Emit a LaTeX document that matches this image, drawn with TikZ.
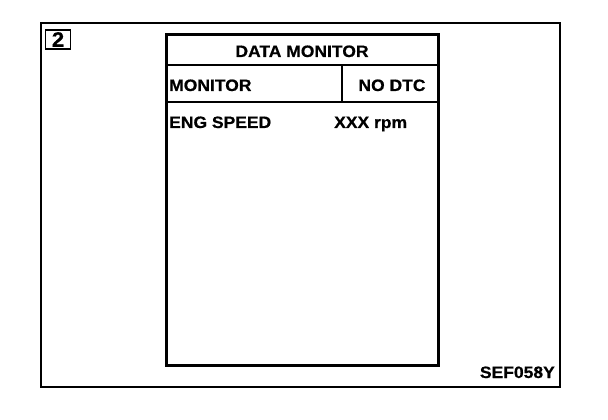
\documentclass[tikz,border=0pt]{standalone}
\usepackage{fontspec}
\setmainfont{Liberation Sans}
\newfontfamily\scrfont[FakeStretch=1.06,FakeBold=0.6]{Liberation Sans Bold}
\usetikzlibrary{positioning}

\begin{document}
\begin{tikzpicture}[x=1pt,y=-1pt,
        frame/.style={draw,line width=1.4pt},
        screen/.style={draw,line width=3pt},
        lbl/.style={font=\scrfont\fontsize{16.5}{19}\selectfont,inner sep=0pt},
        numbox/.style={draw,line width=1.8pt,inner sep=0pt,minimum width=25pt,
                       minimum height=19pt,font=\scrfont\fontsize{21}{24}\selectfont}]
        \useasboundingbox (0,0) rectangle (608,420);
        \draw[frame] (41,23) rectangle (560,387);
        \node[numbox] (step_no) at (58,39.5) {2};
        % screen
        \draw[screen] (166,35) rectangle (438,365);
        \draw[screen,line width=2.4pt] (166,65) -- (438,65);
        \draw[screen,line width=2.4pt] (166,102) -- (438,102);
        \draw[screen,line width=2.4pt] (342,65) -- (342,102);
        \node[lbl,anchor=base] (title) at (302,57) {DATA MONITOR};
        \node[lbl,anchor=base west] (mon) at (169,91) {MONITOR};
        \node[lbl,anchor=base] (dtc) at (392,91) {NO DTC};
        \node[lbl,anchor=base west] (eng) at (169,128) {ENG SPEED};
        \node[lbl,anchor=base west] (rpm) at (334,128) {XXX rpm};
        \node[lbl,anchor=base east] (code) at (555,378) {SEF058Y};
      \end{tikzpicture}
\end{document}
